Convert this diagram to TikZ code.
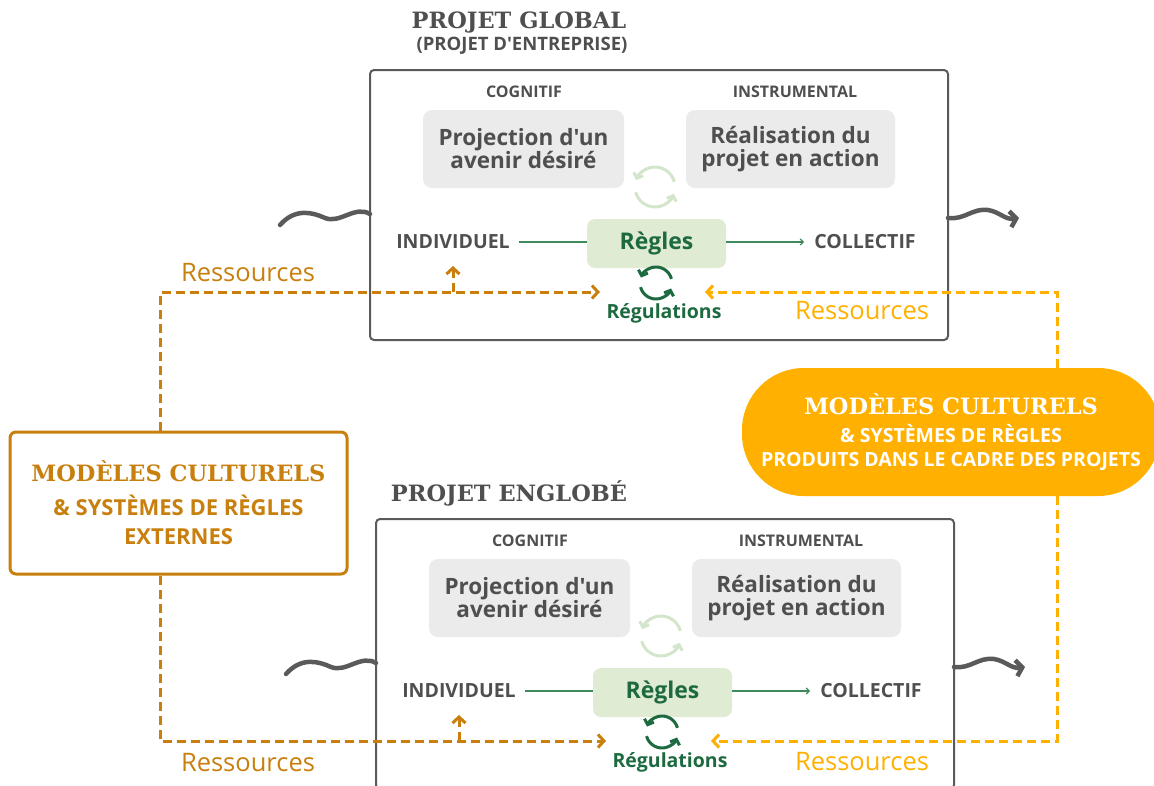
\documentclass[tikz,border=0pt]{standalone}
\usepackage{fontspec}
\setmainfont{DejaVu Serif}
\setsansfont{Open Sans}[Ligatures=TeXOff]
\usetikzlibrary{arrows.meta,positioning}
\definecolor{txtgray}{HTML}{4F4F4F}
\definecolor{framegray}{HTML}{5A5A5A}
\definecolor{ideagray}{HTML}{EBEBEB}
\definecolor{reglefill}{HTML}{DFEBD3}
\definecolor{darkgreen}{HTML}{1D6A40}
\definecolor{linegreen}{HTML}{3E8A5C}
\definecolor{palegreen}{HTML}{D3E5CA}
\definecolor{ochre}{HTML}{C87F0E}
\definecolor{gold}{HTML}{FFB000}
\newcommand{\serifbig}{\rmfamily\bfseries\fontsize{22.5}{24}\selectfont}
\tikzset{
  every node/.style={inner sep=0pt},
  frame/.style={draw=framegray, line width=2pt, rounded corners=4pt, minimum width=578pt, minimum height=270pt},
  head/.style={text=txtgray, font=\sffamily\bfseries\fontsize{16}{18}\selectfont},
  idea/.style={fill=ideagray, rounded corners=9pt, minimum height=78pt, align=center, text=txtgray, font=\sffamily\bfseries\fontsize{22.5}{23}\selectfont},
  pole/.style={text=txtgray, font=\sffamily\bfseries\fontsize{19.5}{21}\selectfont},
  regle/.style={fill=reglefill, rounded corners=8pt, minimum width=139pt, minimum height=49pt, text=darkgreen, font=\sffamily\bfseries\fontsize{23}{24}\selectfont},
  regul/.style={text=darkgreen, font=\sffamily\bfseries\fontsize{19.5}{20}\selectfont},
  link/.style={draw=linegreen, line width=1.3pt},
  cyc/.style={line width=3pt, -{Straight Barb[length=4.5pt,width=10pt]}},
  wave/.style={draw=framegray, line width=4.5pt, line cap=round},
  res/.style={font=\sffamily\fontsize{25.5}{27}\selectfont},
  odash/.style={draw=ochre, line width=3pt, dash pattern=on 9pt off 5pt, -{Straight Barb[length=6pt,width=13pt]}},
  ydash/.style={draw=gold, line width=3pt, dash pattern=on 9pt off 5pt, -{Straight Barb[length=6pt,width=13pt]}},
  titre/.style={text=txtgray, font=\serifbig},
}
\begin{document}
\begin{tikzpicture}[x=1pt,y=-1pt]
\useasboundingbox (0,0) rectangle (1154,785);
\node[titre] (tglob) at (519,22) {PROJET GLOBAL};
\node[text=txtgray, font=\sffamily\bfseries\fontsize{18.5}{19}\selectfont] (tsous) at (522,46) {(PROJET D'ENTREPRISE)};
\node[titre] (tengl) at (509,493) {PROJET ENGLOBÉ};
\foreach \p/\dx/\dy in {g/0/0,e/6/449}{
\begin{scope}[shift={(\dx,\dy)}]
\node[frame] (\p-frame) at (659,205) {};
\node[head] (\p-cog) at (524,92) {COGNITIF};
\node[head] (\p-ins) at (795,92) {INSTRUMENTAL};
\node[idea,minimum width=201pt] (\p-proj) at (523.5,149) {Projection d'un\\avenir désiré};
\node[idea,minimum width=209pt] (\p-real) at (790.5,149) {Réalisation du\\projet en action};
\node[regle] (\p-regles) at (656.5,243.5) {Règles};
\node[pole] (\p-ind) at (453,242) {INDIVIDUEL};
\node[pole] (\p-col) at (865,242) {COLLECTIF};
\node[regul] (\p-regul) at (664,313) {Régulations};
\coordinate (\p-cyc1) at (655,187);
\coordinate (\p-cyc2) at (656,283);
\coordinate (\p-inL) at (600,292);
\coordinate (\p-inR) at (705,292);
\coordinate (\p-tap) at (453,292);
\coordinate (\p-up) at (453,266);
\draw[link] ([xshift=9pt]\p-ind.east) -- (\p-ind.east -| \p-regles.west);
\draw[link,-{Straight Barb[length=3pt,width=6pt]}] (\p-ind.east -| \p-regles.east) -- ([xshift=-10pt]\p-col.west);
\draw[cyc,palegreen] (\p-cyc1) ++(15:20pt) arc[start angle=15,end angle=160,radius=20pt]; % cycle clair
\draw[cyc,palegreen] (\p-cyc1) ++(195:20pt) arc[start angle=195,end angle=340,radius=20pt];
\draw[cyc,darkgreen] (\p-cyc2) ++(15:16pt) arc[start angle=15,end angle=160,radius=16pt]; % regulations
\draw[cyc,darkgreen] (\p-cyc2) ++(195:16pt) arc[start angle=195,end angle=340,radius=16pt];
\draw[wave] (280,225) .. controls (295,208) and (312,212) .. (325,218) .. controls (340,224) and (355,205) .. (370,214);
\draw[wave,-{Straight Barb[length=6pt,width=16pt]}] (948,218) .. controls (965,220) and (972,208) .. (988,210) .. controls (1000,212) and (1005,220) .. (1019,218);
\draw[odash] (\p-tap) -- (\p-up);
\end{scope}}
% modeles externes
\node[draw=ochre, line width=3pt, rounded corners=6pt, minimum width=337pt, minimum height=142pt, align=center, text=ochre, font=\sffamily\bfseries\fontsize{22}{29}\selectfont] (ext) at (178.5,503)
  {\serifbig MODÈLES CULTURELS\\[5pt] \& SYSTÈMES DE RÈGLES\\EXTERNES};
% modeles produits
\node[fill=gold, rounded corners=62pt, minimum width=418pt, minimum height=128pt, align=center, text=white, font=\sffamily\bfseries\fontsize{19.5}{24}\selectfont] (cad) at (951,432)
  {\serifbig MODÈLES CULTURELS\\[4pt] \& SYSTÈMES DE RÈGLES\\PRODUITS DANS LE CADRE DES PROJETS};
\draw[odash] ([xshift=-18pt]ext.north) |- (g-inL);
\draw[odash] ([xshift=-18pt]ext.south) |- (e-inL);
\draw[ydash] ([xshift=106pt]cad.north) |- (g-inR);
\draw[ydash] ([xshift=106pt]cad.south) |- (e-inR);
\node[res,text=ochre] (res1) at (248,273) {Ressources};
\node[res,text=gold] (res2) at (862,311) {Ressources};
\node[res,text=ochre] (res3) at (248,763) {Ressources};
\node[res,text=gold] (res4) at (862,762) {Ressources};
\end{tikzpicture}
\end{document}
